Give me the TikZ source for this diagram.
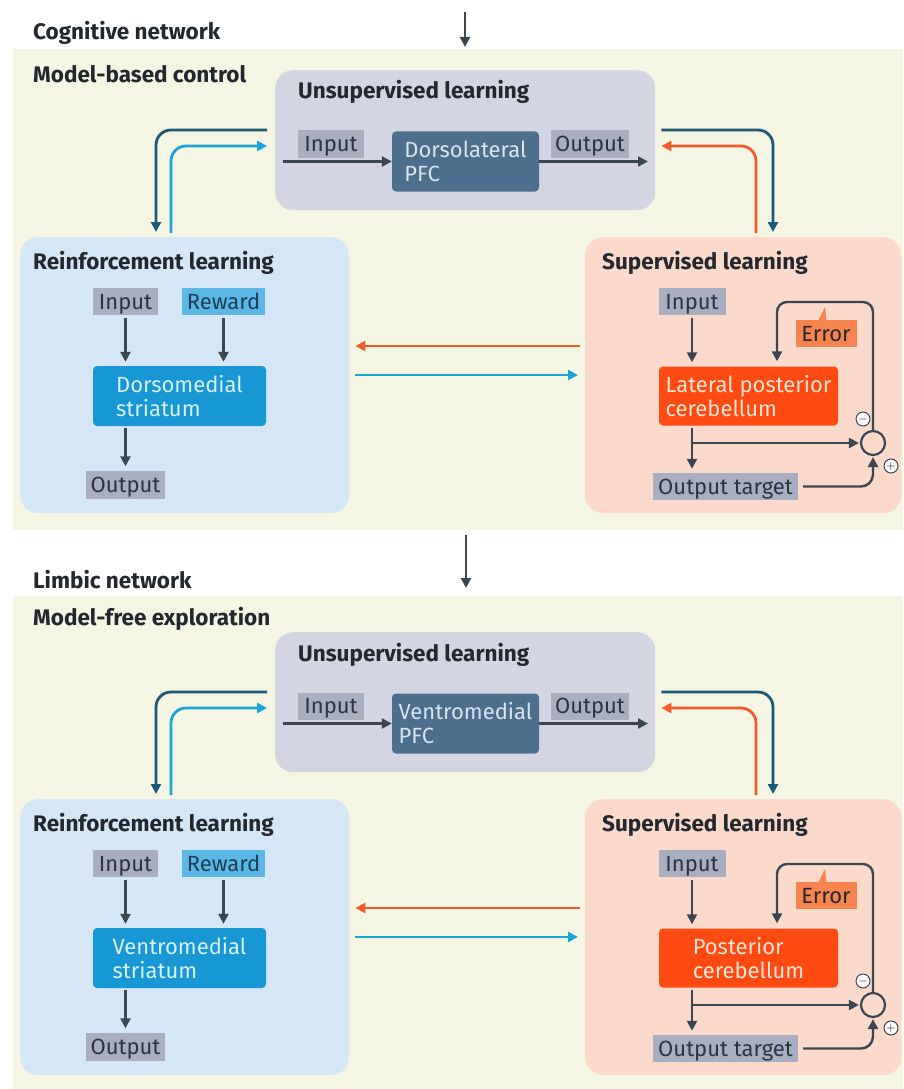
\documentclass[tikz,border=0pt]{standalone}
\usepackage{fontspec}
\setmainfont{Fira Sans}
\usetikzlibrary{arrows.meta,calc}
\definecolor{panelbg}{HTML}{F4F6E3}
\definecolor{unsupbg}{HTML}{D3D6E2}
\definecolor{lblgray}{HTML}{A9AEC0}
\definecolor{pfcbox}{HTML}{4B6F8C}
\definecolor{reinfbg}{HTML}{D5E6F6}
\definecolor{rewardbox}{HTML}{5BB8E4}
\definecolor{striatbox}{HTML}{1798D5}
\definecolor{supbg}{HTML}{FBDACB}
\definecolor{cerebbox}{HTML}{FF4B12}
\definecolor{errbox}{HTML}{F7844F}
\definecolor{darkline}{HTML}{3B4651}
\definecolor{navyline}{HTML}{1E5878}
\definecolor{skyline}{HTML}{1AA5D8}
\definecolor{redline}{HTML}{F25A2A}
\definecolor{txtdark}{HTML}{23272E}
\definecolor{lbltxt}{HTML}{2B3440}
\definecolor{pfctxt}{HTML}{D9E4EE}
\definecolor{strtxt}{HTML}{D6F0FC}
\definecolor{certxt}{HTML}{FFE3D3}
\definecolor{rewtxt}{HTML}{1F3F57}
\tikzset{
  bodyfont/.style={font=\fontsize{22}{24}\selectfont},
  titlefont/.style={font=\fontsize{22.5}{24}\selectfont\bfseries},
  hdr/.style={anchor=base west, text=txtdark, inner sep=0, titlefont},
  panelbox/.style={fill=panelbg, anchor=north west, inner sep=0},
  bigbox/.style={anchor=north west, inner sep=0, rounded corners=18},
  lbl/.style={fill=lblgray, inner sep=0, text=lbltxt, bodyfont, minimum height=27, text height=15.5, text depth=0},
  corebox/.style={inner sep=0, rounded corners=4, align=left, bodyfont},
  darr/.style={draw=darkline, line width=2.4pt, -{Triangle[length=10pt,width=10pt]}},
  navyarr/.style={draw=navyline, line width=2.8pt, rounded corners=15, -{Triangle[length=10pt,width=10pt]}},
  skyarr/.style={draw=skyline, line width=2.8pt, rounded corners=15, -{Triangle[length=10pt,width=10pt]}},
  redarr/.style={draw=redline, line width=2.8pt, rounded corners=15, -{Triangle[length=10pt,width=10pt]}},
  signc/.style={circle, draw=darkline, line width=1pt, fill=white!90!supbg, inner sep=0, minimum size=14, font=\fontsize{13}{13}\selectfont},
}
\newcommand\learnhalf[5]{%
\begin{scope}[yshift=#2]
% unsupervised
\node[bigbox, fill=unsupbg, minimum width=380, minimum height=140] (#1u) at (275,70) {};
\node[hdr] (#1ut) at (298,99) {Unsupervised learning};
\node[lbl, minimum width=66] (#1uin) at (331,144) {Input};
\node[corebox, fill=pfcbox, text=pfctxt, minimum width=147, minimum height=60] (#1pfc) at (465.5,161.5) {#3\\PFC};
\node[lbl, minimum width=78] (#1uout) at (590,144) {Output};
\coordinate (#1ua) at (283,161.5);
\coordinate (#1ub) at (648,161.5);
\draw[darr] (#1ua) -- (#1pfc.west);
\draw[darr] (#1pfc.east) -- (#1ub);
% reinforcement
\node[bigbox, fill=reinfbg, minimum width=329, minimum height=276] (#1r) at (20,237) {};
\node[hdr] (#1rt) at (33,269) {Reinforcement learning};
\node[lbl, minimum width=65] (#1rin) at (125.5,301.5) {Input};
\node[lbl, fill=rewardbox, text=rewtxt, minimum width=83] (#1rew) at (223.5,301.5) {Reward};
\node[corebox, fill=striatbox, text=strtxt, minimum width=173, minimum height=60] (#1str) at (179.5,396) {#4\\striatum};
\node[lbl, minimum width=79, minimum height=28] (#1rout) at (125.5,484.5) {Output};
\draw[darr, shorten <=3pt, shorten >=4pt] (#1rin.south) -- (#1rin.south |- #1str.north);
\draw[darr, shorten <=3pt, shorten >=4pt] (#1rew.south) -- (#1rew.south |- #1str.north);
\draw[darr, shorten <=2pt, shorten >=4pt] (#1str.south -| #1rout) -- (#1rout.north);
% supervised
\node[bigbox, fill=supbg, minimum width=316, minimum height=276] (#1s) at (585,237) {};
\node[hdr] (#1st) at (602,269) {Supervised learning};
\node[lbl, minimum width=67] (#1sin) at (692,301.5) {Input};
\node[corebox, fill=cerebbox, text=certxt, minimum width=179, minimum height=59] (#1cer) at (748.5,396) {#5};
\fill[errbox] (818,321) -- (825,307) -- (826.5,321) -- cycle;
\node[lbl, fill=errbox, text=txtdark, minimum width=61] (#1err) at (826,333.5) {Error};
\node[lbl, minimum width=145] (#1outt) at (725.5,486.5) {Output target};
\node[circle, draw=darkline, line width=2.2pt, fill=supbg, minimum size=24, inner sep=0] (#1sum) at (873,443) {};
\node[signc] (#1minus) at (863,419) {$-$};
\node[signc] (#1plus) at (891,466) {$+$};
\coordinate (#1br) at (692,443);
\coordinate (#1lp) at (777,302);
\draw[darr, shorten <=3pt, shorten >=4pt] (#1sin.south) -- (#1sin.south |- #1cer.north);
\draw[darr, shorten <=2pt, shorten >=4pt] (#1cer.south -| #1sin) -- (#1outt.north -| #1sin);
\draw[darr, shorten >=1pt] (#1br) -- (#1sum.west);
\draw[darr, rounded corners=12, shorten <=5pt, shorten >=1pt] (#1outt.east) -| (#1sum.south);
\draw[darr, rounded corners=10, shorten >=5pt] (#1sum.north) |- (#1lp) -- (#1lp |- #1cer.north);
% loops between boxes
\coordinate (#1nl) at (156,130);
\coordinate (#1sl) at (171,146);
\coordinate (#1nr) at (773,130);
\coordinate (#1rr) at (756,146);
\draw[navyarr, shorten <=8pt, shorten >=5pt] (#1u.west |- #1nl) -| (#1nl |- #1r.north);
\draw[skyarr, shorten <=4pt, shorten >=8pt] (#1sl |- #1r.north) |- (#1u.west |- #1sl);
\draw[navyarr, shorten <=6pt, shorten >=5pt] (#1u.east |- #1nr) -| (#1nr |- #1s.north);
\draw[redarr, shorten <=4pt, shorten >=6pt] (#1rr |- #1s.north) |- (#1u.east |- #1rr);
\coordinate (#1oy) at (0,346);
\coordinate (#1by) at (0,375);
\draw[redarr, shorten <=5pt, shorten >=6pt] (#1s.west |- #1oy) -- (#1r.east |- #1oy);
\draw[skyarr, shorten <=6pt, shorten >=7pt] (#1r.east |- #1by) -- (#1s.west |- #1by);
\end{scope}}
\begin{document}
\begin{tikzpicture}[x=1pt,y=-1pt]
\useasboundingbox (0,0) rectangle (903,1089);
\fill[white] (0,0) rectangle (903,1089);
\node[panelbox, minimum width=890, minimum height=481] (p1) at (13,49) {};
\node[panelbox, minimum width=890, minimum height=493] (p2) at (13,596) {};
\node[hdr] (h1) at (33,40) {Cognitive network};
\node[hdr] (h2) at (33,83) {Model-based control};
\node[hdr] (h3) at (33,588) {Limbic network};
\node[hdr] (h4) at (33,625) {Model-free exploration};
\coordinate (ta) at (465,12);
\draw[darr] (ta) -- ([yshift=2pt]p1.north -| ta);
\coordinate (ma) at (466,0);
\draw[darr, shorten <=5pt, shorten >=8pt] (p1.south -| ma) -- (p2.north -| ma);
\learnhalf{T}{0pt}{Dorsolateral}{Dorsomedial}{Lateral posterior\\cerebellum}
\learnhalf{B}{-562pt}{Ventromedial}{Ventromedial}{Posterior\\cerebellum}
\end{tikzpicture}
\end{document}
